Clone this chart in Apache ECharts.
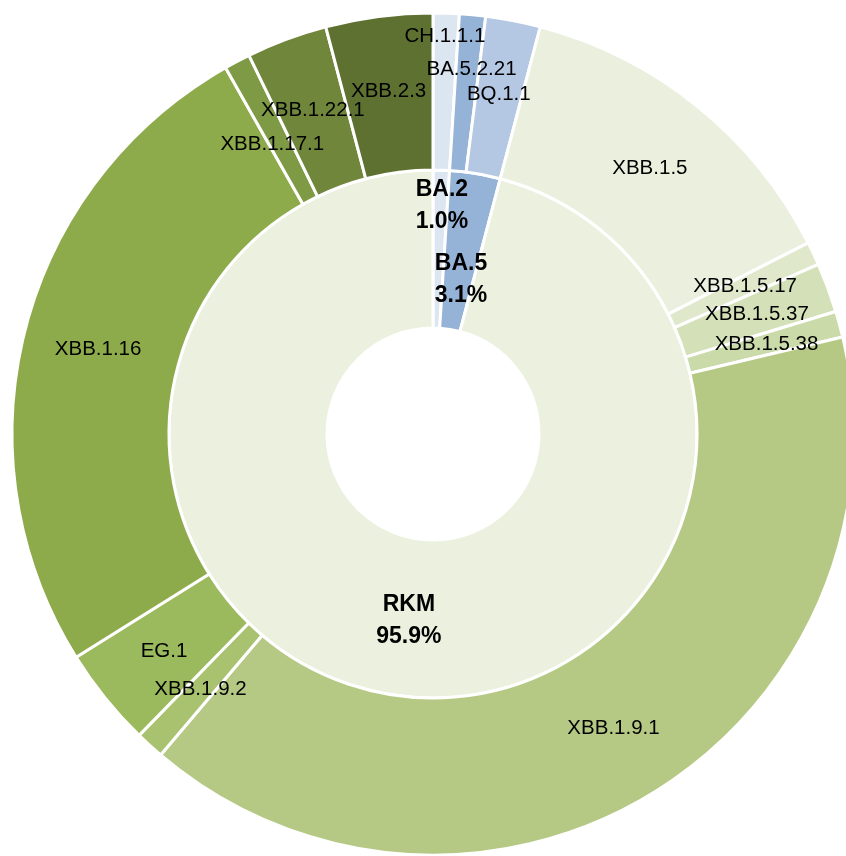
<!DOCTYPE html>
<html>
<head>
<meta charset="utf-8">
<script src="https://cdn.jsdelivr.net/npm/echarts@6/dist/echarts.min.js"></script>
<style>
html,body{margin:0;padding:0;background:#ffffff;}
#chart{width:846px;height:856px;}
</style>
</head>
<body>
<div id="chart"></div>
<script>
// Inner ring: lineages (percent)
const innerNames = ['BA.2', 'BA.5', 'RKM'];
const innerValues = [1.0, 3.1, 95.9];
const innerColors = ['#DCE6F1', '#95B3D7', '#EBF1DE'];

// Outer ring: sub-lineages (percent)
const outerNames = ['CH.1.1.1', 'BA.5.2.21', 'BQ.1.1', 'XBB.1.5', 'XBB.1.5.17', 'XBB.1.5.37', 'XBB.1.5.38',
  'XBB.1.9.1', 'XBB.1.9.2', 'EG.1', 'XBB.1.16', 'XBB.1.17.1', 'XBB.1.22.1', 'XBB.2.3'];
const outerValues = [1.0, 1.0, 2.1, 13.4, 0.9, 1.9, 1.0, 39.9, 1.1, 3.8, 25.7, 1.0, 3.1, 4.1];
const outerColors = ['#DCE6F1', '#95B3D7', '#B4C8E3', '#EBF0DE', '#DFE8CB', '#D4E1B8', '#CADAA9',
  '#B5C985', '#A8C270', '#9BB95D', '#8EAB4C', '#7E9A45', '#70863B', '#5E7131'];

// label nudges (px) to keep small-slice labels apart
const outerLabelShift = { 'CH.1.1.1': [1, -52], 'BA.5.2.21': [6, -21], 'XBB.1.17.1': [0, 16], 'XBB.1.5': [0, 3] };
const innerLabelShift = { 'BA.2': [3, -40], 'BA.5': [-2, 31] };

const chart = echarts.init(document.getElementById('chart'), null, { renderer: 'canvas' });
const center = [433, 434];
const font = '"Liberation Sans", Arial, sans-serif';

chart.setOption({
  backgroundColor: '#ffffff',
  animation: false,
  series: [
    {
      type: 'pie',
      name: 'inner',
      center: center,
      radius: [106, 264],
      startAngle: 90,
      clockwise: true,
      avoidLabelOverlap: false,
      itemStyle: { borderColor: '#ffffff', borderWidth: 3 },
      label: {
        show: true,
        position: 'inside',
        formatter: p => p.name + '\n' + p.value.toFixed(1) + '%',
        color: '#000000',
        fontFamily: font,
        fontWeight: 'bold',
        fontSize: 23,
        lineHeight: 32
      },
      labelLine: { show: false },
      labelLayout: p => {
        const s = innerLabelShift[innerNames[p.dataIndex]];
        return s ? { dx: s[0], dy: s[1] } : {};
      },
      emphasis: { disabled: true },
      data: innerNames.map((n, i) => ({ name: n, value: innerValues[i], itemStyle: { color: innerColors[i] } }))
    },
    {
      type: 'pie',
      name: 'outer',
      center: center,
      radius: [264, 421],
      startAngle: 90,
      clockwise: true,
      avoidLabelOverlap: false,
      itemStyle: { borderColor: '#ffffff', borderWidth: 3 },
      label: {
        show: true,
        position: 'inside',
        formatter: '{b}',
        color: '#000000',
        fontFamily: font,
        fontSize: 20.5
      },
      labelLine: { show: false },
      labelLayout: p => {
        const s = outerLabelShift[outerNames[p.dataIndex]];
        return s ? { dx: s[0], dy: s[1] } : {};
      },
      emphasis: { disabled: true },
      data: outerNames.map((n, i) => ({ name: n, value: outerValues[i], itemStyle: { color: outerColors[i] } }))
    }
  ]
});
</script>
</body>
</html>
